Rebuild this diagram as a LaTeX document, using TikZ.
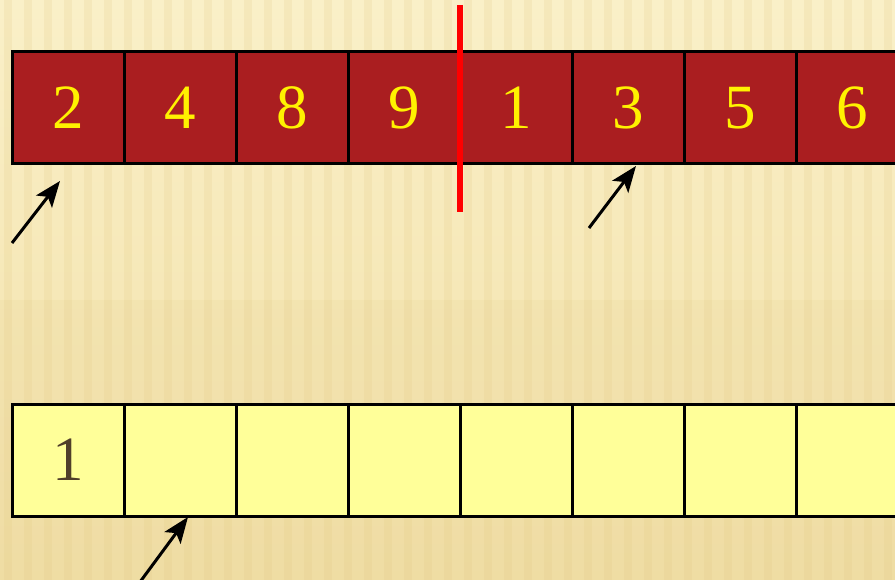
\documentclass[tikz,border=0pt]{standalone}
\usepackage{fontspec}
\setmainfont{Liberation Serif}
\usetikzlibrary{arrows.meta}
\definecolor{bgtop}{RGB}{250,240,200}
\definecolor{bgbot}{RGB}{242,224,168}
\definecolor{stripe}{RGB}{225,200,130}
\definecolor{cellred}{RGB}{170,30,32}
\definecolor{cellyel}{RGB}{255,255,153}
\definecolor{digbrown}{RGB}{80,62,42}
\tikzset{
  redcell/.style={draw=black, line width=3pt, fill=cellred, minimum width=112pt, minimum height=112pt, inner sep=0pt, text=yellow, font=\fontsize{63}{63}\selectfont},
  yelcell/.style={draw=black, line width=3pt, fill=cellyel, minimum width=112pt, minimum height=112pt, inner sep=0pt, text=digbrown, font=\fontsize{63}{63}\selectfont},
  pointer/.style={draw=black, line width=3pt, -{Stealth[length=26pt,width=20pt,inset=6pt]}},
  divider/.style={draw=red, line width=6.5pt}
}
\begin{document}
\begin{tikzpicture}[x=1pt,y=-1pt]
\useasboundingbox (0,0) rectangle (895,580);
\clip (0,0) rectangle (895,580);
\shade[top color=bgtop, bottom color=bgbot] (0,0) rectangle (895,580);
\foreach \i in {0,...,44} {
  \fill[stripe, opacity=0.18] ({\i*20+4},0) rectangle ({\i*20+12},580);
}
\fill[stripe, opacity=0.12] (0,300) rectangle (895,580);
% top row
\foreach \v [count=\k from 0] in {2,4,8,9,1,3,5,6} {
  \node[redcell] (t\k) at ({68+112*\k},108) {\v};
}
% bottom row
\node[yelcell] (b0) at (68,460) {1};
\foreach \k in {1,...,7} {
  \node[yelcell] (b\k) at ({68+112*\k},460) {};
}
% divider
\coordinate (dtop) at (460,5);
\coordinate (dbot) at (460,212);
\draw[divider] (dtop) -- (dbot);
% pointers
\coordinate (p1s) at (12,243);
\coordinate (p1e) at (60,181);
\coordinate (p2s) at (589,228);
\coordinate (p2e) at (636,166);
\coordinate (p3s) at (140,582);
\coordinate (p3e) at (188,517);
\draw[pointer] (p1s) -- (p1e);
\draw[pointer] (p2s) -- (p2e);
\draw[pointer] (p3s) -- (p3e);
\end{tikzpicture}
\end{document}
